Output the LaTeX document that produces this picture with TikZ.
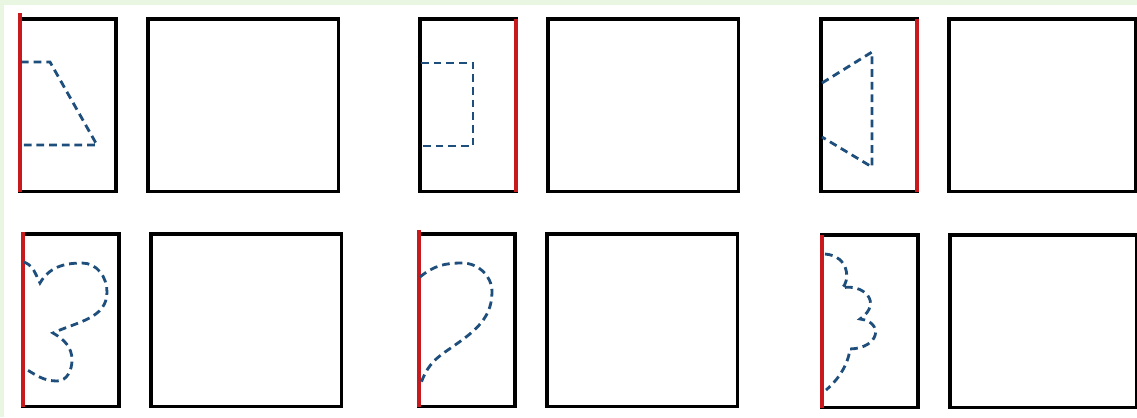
\documentclass[tikz,border=0pt]{standalone}
\usetikzlibrary{positioning}
\definecolor{bg}{HTML}{E9F6E2}
\definecolor{fold}{HTML}{C81A1E}
\definecolor{cut}{HTML}{1E4F7C}

\begin{document}
\begin{tikzpicture}[
  x=0.025cm, y=-0.025cm,
  half/.style={draw, line width=2.2pt, anchor=north west, outer sep=0pt, inner sep=0pt, minimum width=2.4cm, minimum height=4.32cm},
  full/.style={draw, line width=2.2pt, outer sep=0pt, inner sep=0pt, minimum width=4.75cm, minimum height=4.32cm},
  foldline/.style={draw=fold, line width=2.8pt},
  cutline/.style={draw=cut, line width=2pt, dash pattern=on 5.5pt off 3.5pt},
]
% page
\fill[bg] (0,0) rectangle (1137,417);
\fill[white] (4,5) rectangle (1137,417);
\useasboundingbox (0,0) rectangle (1137,417);
% top row: half sheets and empty squares
\node[half] (h1) at (20,19) {};
\node[full, right=0.8cm of h1] (f1) {};
\node[half] (h2) at (420,19) {};
\node[full, right=0.8cm of h2] (f2) {};
\node[half] (h3) at (821,19) {};
\node[full, right=0.8cm of h3, minimum width=4.65cm] (f3) {};
% bottom row
\node[half] (h4) at (23,234) {};
\node[full, right=0.8cm of h4] (f4) {};
\node[half] (h5) at (419,234) {};
\node[full, right=0.8cm of h5] (f5) {};
\node[half] (h6) at (822,235) {};
\node[full, right=0.8cm of h6, minimum width=4.65cm] (f6) {};
% fold edges
\draw[foldline] ([yshift=0.15cm]h1.north west) -- (h1.south west);
\draw[foldline] (h2.north east) -- (h2.south east);
\draw[foldline] (h3.north east) -- (h3.south east);
\draw[foldline] ([yshift=0.05cm]h4.north west) -- (h4.south west);
\draw[foldline] ([yshift=0.1cm]h5.north west) -- (h5.south west);
\draw[foldline] (h6.north west) -- (h6.south west);
% half outlines to cut
\draw[cutline] (21,62) -- (50,62) -- (97,145) -- (21,145);
\draw[cutline] (421,63) -- (473,63) -- (473,146) -- (421,146);
\draw[cutline] (822,83) -- (872,52) -- (872,167) -- (822,137);
\draw[cutline] (24,262) .. controls (32,266) .. (40,283)
  to[out=60,in=180] (82,263) to[out=0,in=90] (107,292) to[out=-90,in=25] (53,333)
  to[out=-30,in=90] (72,360) to[out=-90,in=0] (57,381) to[out=180,in=-30] (24,368);
\draw[cutline] (420,277) to[out=40,in=180] (462,263) to[out=0,in=90] (492,292)
  to[out=-90,in=35] (445,352) to[out=-145,in=70] (421,383);
\draw[cutline] (825,254) .. controls (850,256) and (850,282) .. (842,288)
  .. controls (862,283) and (884,302) .. (860,319)
  .. controls (884,322) and (880,348) .. (850,349)
  .. controls (848,365) and (838,380) .. (826,390);
\end{tikzpicture}
\end{document}
